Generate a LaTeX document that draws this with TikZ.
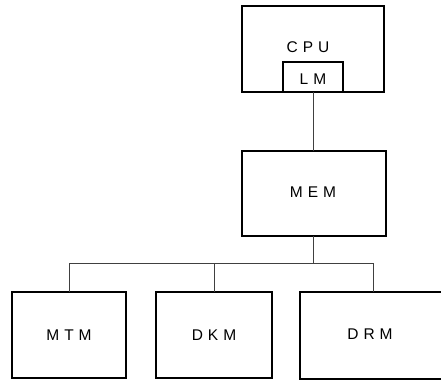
\documentclass[tikz,border=0pt]{standalone}
\usepackage{fontspec}
\setmainfont{Liberation Sans}
\usetikzlibrary{calc}
\newcommand\lsp{\kern5pt}
\begin{document}
\begin{tikzpicture}[x=1pt,y=-1pt,
  box/.style={draw,line width=1.2pt,rectangle,inner sep=0pt,outer sep=0pt},
  lbl/.style={font=\fontsize{15.5}{17}\selectfont,inner sep=0pt},
  wire/.style={draw=black!75,line width=0.6pt}]
\useasboundingbox (0,0) rectangle (441,382);
\clip (0,0) rectangle (441,382);
\node[box,minimum width=142pt,minimum height=86pt] (cpu) at (313,49) {};
\node[lbl] (cputxt) at (308,47) {C\lsp P\lsp U};
\node[box,minimum width=60pt,minimum height=30pt] (lm) at (313,77) {};
\node[lbl] (lmtxt) at (313,79) {L\lsp M};
\node[box,minimum width=144pt,minimum height=85pt] (mem) at (314,193.5) {};
\node[lbl] (memtxt) at (313,192) {M\lsp E\lsp M};
\node[box,minimum width=114pt,minimum height=86pt] (mtm) at (69,335) {};
\node[lbl] at (mtm.center) {M\lsp T\lsp M};
\node[box,minimum width=116pt,minimum height=86pt] (dkm) at (214,335) {};
\node[lbl] at (dkm.center) {D\lsp K\lsp M};
\node[box,minimum width=180pt,minimum height=87pt] (drm) at (390,335.5) {};
\node[lbl] (drmtxt) at (370,334) {D\lsp R\lsp M};
\coordinate (bus) at (313,263);
\coordinate (drmtop) at ($(drm.north west)+(73,0)$);
\draw[wire] (lm.south) -- (lm.south |- mem.north);
\draw[wire] (mem.south -| bus) -- (bus);
\draw[wire] (mtm.north |- bus) -- (drmtop |- bus);
\draw[wire] (mtm.north |- bus) -- (mtm.north);
\draw[wire] (dkm.north |- bus) -- (dkm.north);
\draw[wire] (drmtop |- bus) -- (drmtop);
\end{tikzpicture}
\end{document}
